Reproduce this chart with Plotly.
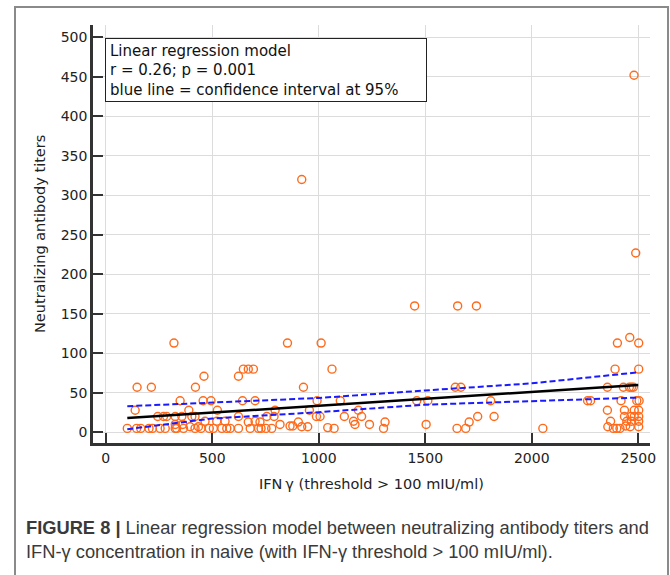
import plotly.graph_objects as go

# ---------------- data ----------------
ifn_values = [
    920, 147, 214, 421, 461, 623, 646, 669, 693,
    349, 457, 494, 642, 701, 138, 390, 524,
    244, 271, 286, 326, 357, 404, 419, 623,
    466, 521, 560, 669, 701, 326, 361, 396, 435,
    101, 145, 164, 203, 219, 255, 279, 326, 333, 365, 419, 447, 486, 505, 545, 568, 584, 623, 678, 717,
    320, 853, 1011, 1062, 928, 992, 1101, 1460, 956, 795, 1186,
    756, 790, 989, 1006, 1120, 1201, 724, 904, 1163, 1311, 818, 1170, 1238,
    865, 878, 920, 948, 729, 752, 779, 1042, 1072, 1304,
    1512, 1641, 1667, 1807, 1746, 1823, 1706, 1504, 1649, 1690, 2052,
    1450, 1652, 1740,
    2402, 2460, 2502, 2391, 2502, 2355, 2430, 2458, 2468, 2477,
    2262, 2276, 2419, 2493, 2504, 2355, 2435, 2481, 2502,
    2435, 2465, 2481, 2502, 2370, 2446, 2468, 2502,
    2357, 2383, 2399, 2414, 2441, 2462, 2502,
    2480, 2488,
]
titer_values = [
    320, 57, 57, 57, 71, 71, 80, 80, 80,
    40, 40, 40, 40, 40, 28, 28, 28,
    20, 20, 20, 20, 20, 20, 20, 20,
    14, 14, 14, 13, 14, 10, 10, 7, 7,
    5, 5, 5, 5, 5, 5, 5, 5, 5, 5, 5, 5, 5, 5, 5, 5, 5, 5, 5, 5,
    113, 113, 113, 80, 57, 40, 40, 40, 28, 28, 28,
    20, 20, 20, 20, 20, 20, 13, 13, 14, 13, 10, 10, 10,
    8, 8, 7, 7, 5, 5, 5, 6, 5, 5,
    40, 57, 57, 40, 20, 20, 13, 10, 5, 5, 5,
    160, 160, 160,
    113, 120, 113, 80, 80, 57, 57, 57, 57, 57,
    40, 40, 40, 40, 40, 28, 28, 28, 28,
    20, 20, 20, 20, 14, 14, 14, 14,
    7, 5, 5, 5, 8, 7, 7,
    452, 227,
]

reg_x = [101, 2500]
reg_y = [18, 60]
ci_x = [101, 500, 1000, 1500, 2000, 2500]
ci_upper = [33, 37.5, 43.5, 53, 62, 76]
ci_lower = [4, 17.5, 25.5, 35, 39.5, 44]

x_ticks = [0, 500, 1000, 1500, 2000, 2500]
y_ticks = [0, 50, 100, 150, 200, 250, 300, 350, 400, 450, 500]

legend_text = ("Linear regression model<br>r = 0.26; p = 0.001<br>"
               "blue line = confidence interval at 95%")
x_title = "IFN\u2009\u03b3 (threshold > 100 mIU/ml)"
y_title = "Neutralizing antibody titers"
caption_1 = ("<b>FIGURE 8 |</b> Linear regression model between neutralizing "
             "antibody titers and")
caption_2 = "IFN-\u03b3 concentration in naive (with IFN-\u03b3 threshold > 100 mIU/ml)."

# ---------------- figure ----------------
W, H = 670, 575
L, R, T, B = 93, 20, 25, 132
pw, ph = W - L - R, H - T - B

def px_x(p):
    return (p - L) / pw

def px_y(p):
    return (H - B - p) / ph

fig = go.Figure()
fig.add_trace(go.Scatter(
    x=ifn_values, y=titer_values, mode="markers",
    marker=dict(symbol="circle-open", size=8, color="#FF6A1A",
                line=dict(width=1.4, color="#FF6A1A")),
    hoverinfo="x+y", showlegend=False))
fig.add_trace(go.Scatter(x=ci_x, y=ci_upper, mode="lines",
                         line=dict(color="#1a1aff", width=2, dash="6px,3px"),
                         showlegend=False))
fig.add_trace(go.Scatter(x=ci_x, y=ci_lower, mode="lines",
                         line=dict(color="#1a1aff", width=2, dash="6px,3px"),
                         showlegend=False))
fig.add_trace(go.Scatter(x=reg_x, y=reg_y, mode="lines",
                         line=dict(color="#000000", width=2.5),
                         showlegend=False))

axis_font = dict(family="DejaVu Sans", size=14, color="#222")
common = dict(ticks="inside", ticklen=10, tickwidth=2, tickcolor="#333",
              showline=True, linewidth=2.5, linecolor="#333",
              showgrid=True, gridcolor="#dcdcdc", gridwidth=1,
              zeroline=False, tickfont=axis_font)
fig.update_xaxes(range=[-60, 2555], tickvals=x_ticks, **common)
fig.update_yaxes(range=[-13.5, 515.6], tickvals=y_ticks, **common)

fig.update_layout(
    width=W, height=H, margin=dict(l=L, r=R, t=T, b=B),
    plot_bgcolor="white", paper_bgcolor="white",
    font=axis_font, showlegend=False,
)

annotations = [
    dict(text=legend_text, xref="paper", yref="paper",
         x=px_x(105), y=px_y(38), xanchor="left", yanchor="top",
         align="left", valign="middle", showarrow=False,
         bgcolor="white", bordercolor="#222", borderwidth=1, borderpad=4,
         width=312, height=54,
         font=dict(family="DejaVu Sans", size=15, color="#111")),
    dict(text=x_title, xref="paper", yref="paper", x=0.5, y=px_y(484),
         xanchor="center", yanchor="middle", showarrow=False,
         font=dict(family="DejaVu Sans", size=14.5, color="#222")),
    dict(text=y_title, xref="paper", yref="paper", x=px_x(40), y=px_y(234),
         xanchor="center", yanchor="middle", textangle=-90, showarrow=False,
         font=dict(family="DejaVu Sans", size=14.5, color="#222")),
    dict(text=caption_1, xref="paper", yref="paper", x=px_x(24), y=px_y(527),
         xanchor="left", yanchor="middle", showarrow=False,
         font=dict(family="Liberation Sans", size=18.3, color="#3a3a3a")),
    dict(text=caption_2, xref="paper", yref="paper", x=px_x(24), y=px_y(552),
         xanchor="left", yanchor="middle", showarrow=False,
         font=dict(family="Liberation Sans", size=18.3, color="#3a3a3a")),
]
fig.update_layout(annotations=annotations)

fig.add_shape(type="rect", xref="paper", yref="paper",
              x0=px_x(15), x1=px_x(668), y0=px_y(585), y1=px_y(7),
              line=dict(color="#8a8a8a", width=2), layer="below")

fig.write_html("out.html", config={"displayModeBar": False},
               post_script="document.body.style.margin='0';"
                           "document.body.style.overflow='hidden';")
